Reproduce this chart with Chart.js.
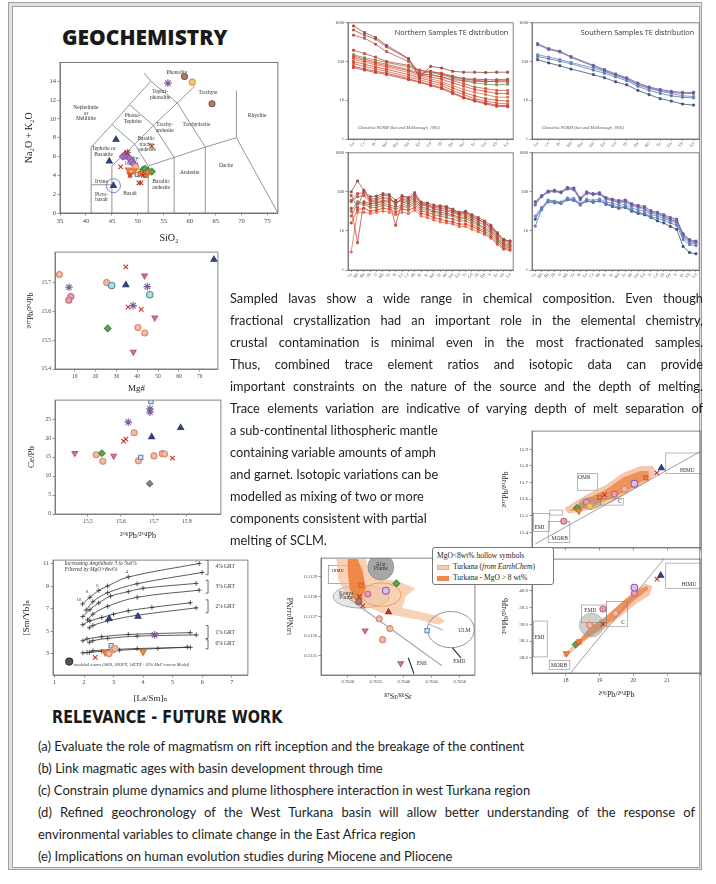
<!DOCTYPE html>
<html>
<head>
<meta charset="utf-8">
<script src="https://cdn.jsdelivr.net/npm/chart.js@4.4.1/dist/chart.umd.min.js"></script>
<style>
html, body { margin: 0; padding: 0; background: #fff; }
body { width: 716px; height: 884px; position: relative; overflow: hidden; }
.frame { position: absolute; left: 8px; top: 2px; width: 692px; height: 866px; border: 1px solid #a0a0a0; background: #e2e2e2; }
.inner { position: absolute; left: 12px; top: 6px; width: 686px; height: 860px; border: 1px solid #a0a0a0; background: #fff; }
canvas { position: absolute; }
.geo { position: absolute; left: 62px; top: 27px; margin: 0; font: 800 21px "Open Sans", sans-serif; line-height: 1; color: #1a1a1a; }
.rel { position: absolute; left: 52px; top: 708px; margin: 0; font: bold 18px "Liberation Sans Narrow", "DejaVu Sans Condensed", sans-serif;
       line-height: 1; color: #1a1a1a; transform: scaleX(0.895); transform-origin: left top; white-space: nowrap; }
.para { position: absolute; left: 230px; top: 287px; width: 473px; font: 12.8px Lato, sans-serif; line-height: 22px; color: #1e1e1e; }
.para div, .list div { white-space: nowrap; }
.para .j, .list .j { white-space: normal; text-align: justify; text-align-last: justify; }
.list { position: absolute; left: 38px; top: 735px; width: 657px; font: 13px Lato, sans-serif; line-height: 22px; color: #1e1e1e; }
.legend { position: absolute; left: 432px; top: 547px; width: 120px; height: 36px; border: 1px solid #777; border-radius: 3px; background: #fff; font: 7.5px "Liberation Serif", serif; color: #222; z-index: 5; }
.legend div { position: absolute; left: 4px; white-space: nowrap; }
.sw { display: inline-block; width: 12px; height: 5px; margin-right: 4px; vertical-align: middle; }
</style>
</head>
<body>
<div class="frame"></div>
<div class="inner"></div>
<h1 class="geo">GEOCHEMISTRY</h1>

<canvas id="tas" width="261" height="188" style="left:22px;top:57px"></canvas>
<canvas id="spNW" width="186" height="131" style="left:332px;top:18px"></canvas>
<canvas id="spNE" width="188" height="131" style="left:516px;top:18px"></canvas>
<canvas id="spSW" width="186" height="132" style="left:332px;top:148px"></canvas>
<canvas id="spSE" width="188" height="132" style="left:516px;top:148px"></canvas>
<canvas id="pbMg" width="198" height="148" style="left:25px;top:247px"></canvas>
<canvas id="cePb" width="201" height="147" style="left:25px;top:395px"></canvas>
<canvas id="iso1" width="206" height="127" style="left:500px;top:426px"></canvas>
<canvas id="iso2" width="206" height="147" style="left:500px;top:554px"></canvas>
<canvas id="ndSr" width="195" height="150" style="left:285px;top:553px"></canvas>
<canvas id="smYb" width="233" height="150" style="left:20px;top:555px"></canvas>

<div class="para">
  <div class="j">Sampled lavas show a wide range in chemical composition. Even though</div>
  <div class="j">fractional crystallization had an important role in the elemental chemistry,</div>
  <div class="j">crustal contamination is minimal even in the most fractionated samples.</div>
  <div class="j">Thus, combined trace element ratios and isotopic data can provide</div>
  <div class="j">important constraints on the nature of the source and the depth of melting.</div>
  <div class="j">Trace elements variation are indicative of varying depth of melt separation of</div>
  <div>a sub-continental lithospheric mantle</div>
  <div>containing variable amounts of amph</div>
  <div>and garnet. Isotopic variations can be</div>
  <div>modelled as mixing of two or more</div>
  <div>components consistent with partial</div>
  <div>melting of SCLM.</div>
</div>

<div class="legend">
  <div style="top:3px">MgO&lt;8wt% hollow symbols</div>
  <div style="top:14px"><span class="sw" style="background:#f6cfae;border:1px solid #e8b08a;width:10px;height:3px"></span>Turkana (<i>from EarthChem</i>)</div>
  <div style="top:25px"><span class="sw" style="background:#ec8a4a"></span>Turkana - MgO &gt; 8 wt%</div>
</div>

<h2 class="rel">RELEVANCE - FUTURE WORK</h2>
<div class="list">
  <div>(a) Evaluate the role of magmatism on rift inception and the breakage of the continent</div>
  <div>(b) Link magmatic ages with basin development through time</div>
  <div>(c) Constrain plume dynamics and plume lithosphere interaction in west Turkana region</div>
  <div class="j">(d) Refined geochronology of the West Turkana basin will allow better understanding of the response of</div>
  <div>environmental variables to climate change in the East Africa region</div>
  <div>(e) Implications on human evolution studies during Miocene and Pliocene</div>
</div>

<script>
// ---- TAS diagram (SiO2 vs Na2O+K2O)
const tasSiO2 = [55.8, 59.0, 60.5, 64.3, 45.8, 44.5, 45.3, 52.7, 47.1, 47.6, 48.0, 48.4, 48.8, 49.2, 47.8, 46.7,
                 48.2, 48.5, 48.5, 49.6, 51.0, 51.4, 52.0, 52.7, 49.9, 50.5, 51.5, 51.9, 51.0, 50.2, 50.6, 49.3];
const tasAlkali = [13.8, 14.5, 13.9, 11.6, 7.8, 5.5, 2.9, 7.1, 6.0, 6.2, 6.4, 5.8, 5.5, 5.2, 6.4, 4.9,
                   4.6, 4.1, 4.0, 4.9, 4.6, 4.7, 4.5, 4.4, 4.1, 4.2, 4.0, 4.3, 4.0, 3.2, 3.2, 4.5];
const tasSymbol = ['purpleCross', 'brownDot', 'yellowDot', 'brownDot', 'navyTri', 'navyTri', 'navyTri', 'redX',
                   'purpleDia', 'purpleDia', 'purpleCross', 'purpleDia', 'purpleDia', 'purpleDia', 'redX', 'redX',
                   'orangeTri', 'orangeTri', 'redX', 'salmonDot', 'greenStar', 'greenStar', 'greenStar', 'greenStar',
                   'blueSq', 'orangeSq', 'orangeSq', 'orangeSq', 'redX', 'redX', 'redX', 'orangeTri'];
const tasXTicks = [35, 40, 45, 50, 55, 60, 65, 70, 75];
const tasYTicks = [0, 2, 4, 6, 8, 10, 12, 14];

// ---- spider diagrams
const reeLabels = ['La', 'Ce', 'Pr', 'Nd', 'Pm', 'Sm', 'Eu', 'Gd', 'Tb', 'Dy', 'Ho', 'Er', 'Tm', 'Yb', 'Lu'];
const northRee = [
  [830, 560, 420, 262, null, 120, 38, 75, 68, 56, 53, 53, 52, 53, 53],
  [650, 480, 380, 240, null, 115, 50, 55, 48, 40, 36, 35, 34, 34, 35],
  [480, 400, 280, 180, null, 100, 45, 46, 40, 34, 32, 31, 30, 32, 32],
  [196, 160, 130, 100, null, 80, 60, 55, 50, 42, 36, 33, 31, 30, 30],
  [150, 125, 110, 95, null, 72, 58, 52, 45, 38, 32, 28, 26, 25, 26],
  [140, 115, 98, 85, null, 62, 50, 45, 40, 32, 27, 22, 20, 18, 18],
  [128, 105, 90, 78, null, 58, 46, 40, 35, 28, 23, 19, 17, 15, 15],
  [115, 95, 82, 72, null, 52, 42, 36, 30, 24, 19, 16, 14, 12, 12],
  [100, 85, 72, 63, null, 46, 38, 32, 27, 21, 16, 13, 11, 10, 9.5],
  [88, 75, 64, 56, null, 40, 34, 28, 24, 18, 14, 11, 9.5, 8.5, 8],
  [75, 65, 56, 50, null, 36, 30, 25, 21, 16, 12, 10, 8.5, 7.5, 7.2],
  [70, 60, 52, 46, null, 34, 29, 24, 20, 15, 11.5, 9.5, 8, 7, 6.8]
];
const southRee = [
  [290, 215, 185, 135, null, 80, 62, 48, 38, 28, 22, 19, 17, 16, 16],
  [270, 205, 175, 128, null, 76, 58, 45, 36, 26, 21, 18, 16, 15, 15],
  [150, 130, 112, 95, null, 68, 55, 44, 35, 25, 20, 17, 15, 13, 12.5],
  [135, 118, 102, 88, null, 60, 50, 40, 32, 23, 18, 15, 13, 12, 11.5],
  [112, 92, 78, 64, null, 46, 38, 30, 25, 18, 14, 11, 9.5, 8, 7.5]
];
const traceLabels = ['Cs', 'Rb', 'Ba', 'Th', 'U', 'Nb', 'Ta', 'K', 'La', 'Ce', 'Pb', 'Pr', 'Sr', 'Nd', 'Zr', 'Hf',
                     'Sm', 'Eu', 'Ti', 'Gd', 'Tb', 'Dy', 'Y', 'Er', 'Yb', 'Lu'];
const northTrace = [
  [100, 190, 110, 75, 78, 90, 85, 60, 80, 72, 95, 55, 52, 46, 42, 40, 36, 30, 32, 26, 22, 18, 14, 9, 6, 5.5],
  [80, 40, 105, 65, 68, 82, 78, 45, 75, 66, 85, 50, 48, 40, 38, 36, 32, 27, 29, 23, 19, 16, 12, 8, 5.5, 5],
  [56, 75, 80, 56, 56, 60, 62, 55, 60, 56, 70, 45, 44, 36, 34, 32, 30, 25, 26, 21, 17, 14, 11, 7, 5, 4.5],
  [38, 5, 56, 50, 52, 56, 55, 14, 55, 50, 62, 40, 38, 32, 30, 28, 26, 22, 23, 19, 15, 12, 10, 6.5, 4.5, 4.2],
  [32, 56, 52, 45, 46, 50, 48, 40, 48, 44, 55, 36, 34, 30, 27, 25, 24, 20, 21, 17, 14, 11, 9, 6, 4.2, 4],
  [24, 50, 48, 40, 40, 45, 42, 36, 42, 40, 48, 32, 30, 26, 24, 22, 20, 18, 18, 15, 12, 10, 8, 5.5, 4, 3.6],
  [16, 35, 38, 32, 34, 38, 36, 30, 36, 34, 40, 28, 26, 22, 20, 18, 17, 15, 15, 13, 11, 9, 7, 5, 3.6, 3.3],
  [2.9, 30, 30, 28, 30, 32, 30, 26, 30, 28, 34, 24, 22, 19, 17, 16, 15, 13, 13, 11, 9.5, 8, 6.5, 4.5, 3.4, 3.2],
  [60, 90, 95, 60, 62, 70, 68, 50, 66, 60, 78, 50, 46, 40, 44, 42, 34, 28, 30, 24, 20, 16, 13, 8.5, 6, 5.5]
];
const southTrace = [
  [56, 80, 105, 110, 100, 130, 125, 70, 100, 90, 95, 72, 65, 60, 62, 50, 45, 42, 33, 30, 26, 22, 20, 8.5, 6, 5.5],
  [46, 75, 100, 105, 95, 120, 118, 65, 95, 85, 90, 68, 62, 55, 58, 46, 42, 38, 30, 28, 24, 20, 18, 8, 5.6, 5.2],
  [24, 40, 62, 58, 55, 70, 68, 50, 65, 60, 66, 55, 52, 45, 48, 38, 35, 32, 26, 24, 21, 18, 16, 7, 5, 4.6],
  [13.3, 35, 55, 52, 50, 62, 60, 48, 60, 55, 58, 50, 46, 40, 42, 34, 30, 28, 23, 21, 19, 16, 14, 6, 4.5, 4.2],
  [20, 38, 60, 56, 52, 64, 62, 46, 58, 54, 60, 48, 42, 38, 40, 32, 28, 26, 22, 18, 16, 13, 11, 4, 2.8, 2.6],
  [50, 78, 98, 102, 96, 118, 112, 62, 90, 88, 86, 64, 60, 52, 56, 44, 40, 36, 28, 27, 23, 19, 17, 7.5, 5.3, 5]
];
const spiderTicks = [1, 10, 100, 1000];

// ---- 207Pb/204Pb vs Mg#
const mgNumber = [2.6, 7.2, 8.1, 7.1, 25.3, 27.7, 25.8, 34.5, 34.5, 35.6, 38.0, 38.1, 40.3, 43.5, 44.8, 41.9, 43.6, 46.0, 48.4, 76.8];
const mgPb207 = [15.728, 15.684, 15.652, 15.639, 15.700, 15.690, 15.541, 15.755, 15.692, 15.615, 15.620, 15.459,
                 15.544, 15.724, 15.686, 15.607, 15.525, 15.658, 15.578, 15.780];
const mgSymbol = ['salmonDot', 'purpleCross', 'pinkDot', 'pinkDot', 'salmonDot', 'tealDot', 'greenStar', 'redX', 'navyTri',
                  'redX', 'purpleCross', 'pinkTri', 'salmonDot', 'pinkTri', 'purpleCross', 'redX', 'salmonDot', 'tealDot',
                  'pinkTri', 'navyTri'];
const mgXTicks = [10, 20, 30, 40, 50, 60, 70];
const mgYTicks = [15.4, 15.5, 15.6, 15.7];

// ---- Ce/Pb vs 206Pb/204Pb
const cePbX = [15.46, 15.525, 15.542, 15.545, 15.578, 15.608, 15.615, 15.622, 15.64, 15.653, 15.66, 15.691, 15.688,
               15.688, 15.693, 15.687, 15.70, 15.725, 15.732, 15.756, 15.781];
const cePbY = [16.0, 15.6, 16.0, 13.9, 15.3, 19.2, 19.7, 24.2, 21.4, 14.0, 14.9, 29.6, 27.7, 26.8, 20.3, 8.0, 15.3,
               15.9, 15.8, 14.7, 22.7];
const cePbSymbol = ['pinkTri', 'salmonDot', 'greenStar', 'salmonDot', 'pinkTri', 'redX', 'redX', 'purpleCross', 'salmonDot',
                    'salmonDot', 'blueSq', 'blueSq', 'purpleCross', 'purpleCross', 'navyTri', 'grayDia', 'salmonDot',
                    'salmonDot', 'salmonDot', 'redX', 'navyTri'];
const cePbXTicks = [15.5, 15.6, 15.7, 15.8];
const cePbYTicks = [0, 5, 10, 15, 20, 25];

// ---- Pb isotopes
const iso1Pb206 = [18.33, 18.39, 18.61, 18.71, 19.0, 19.15, 19.44, 19.74, 20.03, 20.37, 20.70, 20.83, 17.94];
const iso1Pb207 = [15.546, 15.528, 15.581, 15.556, 15.611, 15.626, 15.630, 15.660, 15.693, 15.729, 15.758, 15.788, 15.467];
const iso1Symbol = ['greenStar', 'orangeTri', 'pinkDot', 'yellowDot', 'orangeSq', 'redX', 'pinkDot', 'salmonDot',
                    'purpleRing', 'orangeSq', 'redX', 'navyTri', 'pinkDot'];
const iso1YTicks = [15.4, 15.5, 15.6, 15.7, 15.8, 15.9];
const iso2Pb206 = [18.02, 18.29, 18.39, 18.71, 19.10, 19.10, 19.47, 20.03, 20.03, 20.70, 20.81];
const iso2Pb208 = [38.13, 38.40, 38.48, 38.98, 39.01, 39.46, 39.33, 39.93, 40.10, 40.35, 40.46];
const iso2Symbol = ['orangeTri', 'greenStar', 'orangeSq', 'salmonDot', 'redX', 'pinkDot', 'salmonDot', 'pinkDot',
                    'purpleRing', 'redX', 'navyTri'];
const isoXTicks = [17, 18, 19, 20, 21, 22];
const iso2YTicks = [38.0, 38.5, 39.0, 39.5, 40.0];

// ---- 143Nd/144Nd vs 87Sr/86Sr
const ndSrSr = [0.703867, 0.703236, 0.703679, 0.703355, 0.703207, 0.703196, 0.703266, 0.703726, 0.703561, 0.703308,
                0.70375, 0.70362, 0.703944, 0.704415];
const ndSrNd = [0.512867, 0.512858, 0.51283, 0.512813, 0.5128, 0.512775, 0.512753, 0.512722, 0.512688, 0.512628,
                0.512638, 0.512582, 0.512462, 0.512628];
const ndSrSymbol = ['greenStar', 'orangeSq', 'purpleRing', 'pinkDot', 'redX', 'brownDot', 'redX', 'redTri', 'salmonDot',
                    'pinkTri', 'salmonDot', 'salmonDot', 'pinkTri', 'blueSq'];
const ndSrXTicks = [0.7030, 0.7035, 0.7040, 0.7045, 0.7050];
const ndSrYTicks = [0.5125, 0.5126, 0.5127, 0.5128, 0.5129];

// ---- [Sm/Yb]N vs [La/Sm]N melting model
const grtLaSm = [
  [1.95, 2.2, 2.5, 2.8, 3.5, 5.9],
  [2.07, 2.3, 2.8, 3.8, 6.0],
  [1.96, 2.2, 2.5, 2.9, 3.5, 4.0, 5.8],
  [2.12, 2.3, 2.8, 3.8, 5.9],
  [1.96, 2.2, 2.6, 3.0, 3.5, 4.3, 5.6],
  [2.18, 2.3, 2.8, 3.8, 5.8],
  [1.96, 2.1, 2.6, 3.5, 5.6],
  [2.18, 2.3, 2.8, 3.8, 5.8],
  [1.96, 2.1, 2.6, 3.2, 4.5, 5.5],
  [2.18, 2.3, 2.9, 3.8, 5.6]
];
const grtSmYb = [
  [7.4, 8.0, 8.6, 9.0, 9.8, 11.0],
  [6.86, 7.6, 8.4, 9.2, 10.2],
  [6.29, 6.9, 7.5, 8.1, 8.5, 8.8, 9.23],
  [6.0, 6.5, 7.2, 8.0, 8.63],
  [5.57, 5.9, 6.2, 6.5, 6.8, 7.1, 7.51],
  [5.29, 5.5, 5.9, 6.4, 7.06],
  [4.14, 4.3, 4.5, 4.7, 4.86],
  [4.0, 4.15, 4.35, 4.55, 4.66],
  [3.06, 3.1, 3.2, 3.3, 3.45, 3.58],
  [3.1, 3.25, 3.35, 3.45, 3.55]
];
const smYbLaSm = [2.85, 3.83, 4.39, 2.92, 2.98, 3.05, 2.72, 2.85, 4.0, 2.38, 1.5];
const smYbSmYb = [6.09, 6.29, 4.66, 3.71, 3.35, 3.45, 3.09, 3.0, 3.14, 2.66, 2.29];
const smYbSymbol = ['navyTri', 'navyTri', 'purpleCross', 'blueSq', 'salmonDot', 'salmonDot', 'orangeTri', 'salmonDot',
                    'orangeTri', 'redX', 'darkDot'];
const smYbXTicks = [1, 2, 3, 4, 5, 6, 7];
const smYbYTicks = [3, 5, 7, 9, 11];

const symbolStyles = {
  redX:        { shape: 'crossRot', color: '#c0392b', fill: '#c0392b', r: 3.2 },
  navyTri:     { shape: 'triangle', color: '#2c3a78', fill: '#34448a', r: 3.4 },
  redTri:      { shape: 'triangle', color: '#a03030', fill: '#b04040', r: 3.2 },
  pinkTri:     { shape: 'triangle', rot: 180, color: '#b85a78', fill: '#d07a95', r: 3.2 },
  orangeTri:   { shape: 'triangle', rot: 180, color: '#e0702a', fill: '#f08a40', r: 3.4 },
  purpleCross: { shape: 'star', color: '#7d5a9e', fill: '#7d5a9e', r: 3.8 },
  purpleDia:   { shape: 'rectRot', color: '#8a5aa8', fill: '#a77cc4', r: 3.4 },
  purpleRing:  { shape: 'circle', color: '#8e5aa8', fill: '#dcc0ec', r: 3.4 },
  salmonDot:   { shape: 'circle', color: '#d88a70', fill: '#f2bba4', r: 3 },
  pinkDot:     { shape: 'circle', color: '#c06a80', fill: '#e8a0b0', r: 3 },
  brownDot:    { shape: 'circle', color: '#8e5a4e', fill: '#b07a6a', r: 3 },
  yellowDot:   { shape: 'circle', color: '#d8a040', fill: '#f5c870', r: 3 },
  greenStar:   { shape: 'rectRot', color: '#3a8a3a', fill: '#5aaa50', r: 3.3 },
  blueSq:      { shape: 'rect', color: '#5a8ac0', fill: '#cfe3f2', r: 3 },
  orangeSq:    { shape: 'rect', color: '#e0602a', fill: '#f07a40', r: 3 },
  tealDot:     { shape: 'circle', color: '#4f9298', fill: '#b8dcdc', r: 3.2 },
  darkDot:     { shape: 'circle', color: '#333', fill: '#555', r: 3.5 },
  grayDia:     { shape: 'rectRot', color: '#666', fill: '#888', r: 3 }
};

Chart.defaults.animation = false;
Chart.defaults.responsive = false;
Chart.defaults.devicePixelRatio = 1;
Chart.defaults.font.family = '"Liberation Serif", "DejaVu Serif", serif';
Chart.defaults.plugins.legend.display = false;
Chart.defaults.plugins.tooltip.enabled = false;

// draws field lines, boxes, envelopes and labels in data units through the chart scales
function toPx(chart, p) {
  return [chart.scales.x.getPixelForValue(p[0]), chart.scales.y.getPixelForValue(p[1])];
}
function paint(chart, items) {
  if (!items) return;
  const ctx = chart.ctx, a = chart.chartArea;
  ctx.save();
  ctx.beginPath();
  ctx.rect(a.left, a.top, a.right - a.left, a.bottom - a.top);
  ctx.clip();
  for (const it of items) {
    ctx.save();
    ctx.lineWidth = it.width || 0.8;
    ctx.strokeStyle = it.stroke || '#777';
    ctx.setLineDash(it.dash || []);
    if (it.path) {
      ctx.beginPath();
      it.path.forEach((p, i) => {
        const [x, y] = toPx(chart, p);
        if (i) ctx.lineTo(x, y); else ctx.moveTo(x, y);
      });
      if (it.close) ctx.closePath();
      if (it.fill) { ctx.fillStyle = it.fill; ctx.fill(); }
      if (it.stroke !== 'none') ctx.stroke();
    } else if (it.box) {
      const [x1, y1] = toPx(chart, [it.box[0], it.box[1]]);
      const [x2, y2] = toPx(chart, [it.box[2], it.box[3]]);
      if (it.fill) { ctx.fillStyle = it.fill; ctx.fillRect(x1, y1, x2 - x1, y2 - y1); }
      ctx.strokeRect(x1, y1, x2 - x1, y2 - y1);
    } else if (it.ellipse) {
      const [cx, cy] = toPx(chart, it.ellipse);
      const [ex, ey] = toPx(chart, [it.ellipse[0] + it.ellipse[2], it.ellipse[1] + it.ellipse[3]]);
      ctx.beginPath();
      ctx.ellipse(cx, cy, Math.abs(ex - cx), Math.abs(ey - cy), 0, 0, Math.PI * 2);
      if (it.fill) { ctx.fillStyle = it.fill; ctx.fill(); }
      if (it.stroke !== 'none') ctx.stroke();
    } else if (it.ring) {
      const [cx, cy] = toPx(chart, it.ring);
      ctx.beginPath();
      ctx.arc(cx, cy, it.r, 0, Math.PI * 2);
      if (it.fill) { ctx.fillStyle = it.fill; ctx.fill(); }
      if (it.stroke !== 'none') ctx.stroke();
    } else if (it.text !== undefined) {
      let x, y;
      if (it.rel) {
        x = a.left + it.rel[0] * (a.right - a.left);
        y = a.top + it.rel[1] * (a.bottom - a.top);
      } else {
        [x, y] = toPx(chart, it.at);
      }
      ctx.font = it.font || '5.5px "Liberation Serif", serif';
      ctx.fillStyle = it.color || '#333';
      ctx.textAlign = it.align || 'center';
      ctx.textBaseline = 'middle';
      ctx.fillText(it.text, x, y);
    }
    ctx.restore();
  }
  ctx.restore();
}
// inline plugin per chart, so the decor objects are not passed through the option resolver
function decorPlugin(decor) {
  return {
    id: 'decor',
    beforeDatasetsDraw(chart) { paint(chart, decor.under); },
    afterDatasetsDraw(chart) {
      paint(chart, decor.over);
      const a = chart.chartArea, ctx = chart.ctx;
      ctx.save();
      ctx.strokeStyle = decor.frameColor || '#666';
      ctx.lineWidth = 0.9;
      ctx.strokeRect(a.left, a.top, a.right - a.left, a.bottom - a.top);
      ctx.restore();
    }
  };
}

function axis(o) {
  const horizontal = o.pos === 'bottom';
  return {
    type: o.log ? 'logarithmic' : 'linear',
    position: o.pos,
    min: o.min,
    max: o.max,
    afterBuildTicks: s => { s.ticks = o.ticks.map(v => ({ value: v })); },
    afterFit: s => { if (horizontal) s.height = o.size; else s.width = o.size; },
    grid: { display: true, drawOnChartArea: false, drawTicks: true, tickLength: 2.5, color: '#666', lineWidth: 0.7 },
    border: { display: true, color: '#666', width: 0.8 },
    ticks: {
      display: !o.hideLabels, color: '#444', font: { size: o.tickSize || 6.5 }, padding: 1.5,
      maxRotation: 0, autoSkip: false, callback: v => (o.fmt ? o.fmt(v) : v)
    },
    title: {
      display: !!o.title, text: o.title, color: '#222', font: { size: o.titleSize || 9 },
      padding: { top: 1, bottom: 1 }
    }
  };
}

function marks(xs, ys, kinds) {
  return {
    type: 'scatter',
    data: xs.map((x, i) => ({ x: x, y: ys[i] })),
    pointStyle: kinds.map(k => symbolStyles[k].shape),
    pointRotation: kinds.map(k => symbolStyles[k].rot || 0),
    pointRadius: kinds.map(k => symbolStyles[k].r),
    pointBackgroundColor: kinds.map(k => symbolStyles[k].fill),
    pointBorderColor: kinds.map(k => symbolStyles[k].color),
    pointBorderWidth: 1.1,
    order: 0
  };
}

function scatterChart(id, datasets, xAxis, yAxis, decor, pad) {
  return new Chart(document.getElementById(id), {
    type: 'scatter',
    data: { datasets: datasets },
    options: {
      layout: { padding: pad || { top: 3, right: 3, left: 0, bottom: 0 } },
      scales: { x: xAxis, y: yAxis }
    },
    plugins: [decorPlugin(decor)]
  });
}

// ---- TAS
const tasFields = [
  [[41, 0], [41, 7], [45, 9.4], [48.4, 11.5], [52.5, 14], [51.2, 14.9]],
  [[41, 3], [45, 3]],
  [[45, 0], [45, 5], [49.4, 7.3], [53, 9.3], [57.6, 11.7], [61, 13.5]],
  [[52, 0], [52, 5], [57, 5.9], [63, 7], [69, 8]],
  [[57, 0], [57, 5.9], [53, 9.3], [48.4, 11.5]],
  [[63, 0], [63, 7], [57.6, 11.7], [52.5, 14]],
  [[45, 9.4], [49.4, 7.3], [52, 5]],
  [[69, 13], [69, 8], [77, 0]]
];
const tasNames = [
  ['Phonolite', 57.5, 14.9], ['Tephri-', 54.3, 12.9], ['phonolite', 54.3, 12.3], ['Trachyte', 63.5, 12.8],
  ['Rhyolite', 73, 10.3], ['Nephelinite', 40, 11.2], ['or', 40, 10.6], ['Melilitite', 40, 10.0],
  ['Phono-', 49, 10.3], ['Tephrite', 49, 9.7], ['Trachy-', 55.2, 9.4], ['andesite', 55.2, 8.8],
  ['Trachydacite', 61.3, 9.4], ['Basaltic', 51.6, 7.9], ['trachy-', 51.8, 7.3], ['andesite', 51.8, 6.7],
  ['Tephrite or', 43.4, 6.8], ['Basanite', 43.4, 6.2], ['Trachy-', 48.8, 5.8], ['basalt', 48.8, 5.3],
  ['Andesite', 60, 4.3], ['Dacite', 67, 5.0], ['Irvine', 43, 3.3], ['Picro-', 43, 2.0], ['basalt', 43, 1.4],
  ['Basalt', 48.5, 2.1], ['Basaltic', 54.5, 3.3], ['andesite', 54.5, 2.7]
];
scatterChart('tas', [marks(tasSiO2, tasAlkali, tasSymbol)],
  axis({ pos: 'bottom', min: 35, max: 77, ticks: tasXTicks, size: 32, title: 'SiO₂', titleSize: 10 }),
  axis({ pos: 'left', min: 0, max: 16, ticks: tasYTicks, size: 38, title: 'Na₂O + K₂O', titleSize: 10 }),
  {
    under: tasFields.map(p => ({ path: p, stroke: '#8a8a8a', width: 0.9 }))
      .concat(tasNames.map(n => ({ text: n[0], at: [n[1], n[2]], font: '5.4px "Liberation Serif", serif', color: '#333' }))),
    over: [{ ring: [45.3, 2.9], r: 7, stroke: '#5a6ab0', width: 0.8 }]
  },
  { top: 5, right: 5, left: 0, bottom: 0 });

// ---- spider diagrams
const northColors = ['#9c4e46', '#a8584c', '#b8584e', '#c9493c', '#6d9460', '#d4553c', '#d9472f', '#e6714c',
                     '#c84c3c', '#e05a40', '#d04030', '#b84a4a'];
const southColors = ['#6a5a9a', '#7b6aaa', '#6a8ac0', '#5b7ab0', '#3d4f7a', '#8a7ab8'];
function spider(id, labels, series, colors, notes) {
  return new Chart(document.getElementById(id), {
    type: 'line',
    data: {
      labels: labels,
      datasets: series.map((vals, i) => ({
        data: vals, borderColor: colors[i % colors.length], backgroundColor: colors[i % colors.length],
        borderWidth: 0.8, pointRadius: 1.4, pointStyle: 'rect', spanGaps: true
      }))
    },
    options: {
      layout: { padding: { top: 2, right: 2, left: 0, bottom: 0 } },
      scales: {
        x: {
          type: 'category', offset: true,
          afterFit: s => { s.height = 10; },
          grid: { display: true, drawOnChartArea: false, tickLength: 2, color: '#777', lineWidth: 0.6 },
          border: { color: '#777' },
          ticks: { color: '#555', font: { size: 4.3 }, padding: 0, autoSkip: false, minRotation: 50, maxRotation: 50 }
        },
        y: axis({ pos: 'left', log: true, min: 1, max: 1000, ticks: spiderTicks, size: 16, tickSize: 4.5 })
      }
    },
    plugins: [decorPlugin({ over: notes, frameColor: '#777' })]
  });
}
spider('spNW', reeLabels, northRee, northColors, [
  { text: 'Northern Samples TE distribution', rel: [0.97, 0.09], align: 'right', font: '7.3px "Open Sans", sans-serif', color: '#333' },
  { text: 'Chondrite NORM (Sun and McDonough, 1995)', rel: [0.06, 0.9], align: 'left', font: 'italic 4.3px "Liberation Serif", serif', color: '#555' }
]);
spider('spNE', reeLabels, southRee, southColors, [
  { text: 'Southern Samples TE distribution', rel: [0.97, 0.09], align: 'right', font: '7.3px "Open Sans", sans-serif', color: '#333' },
  { text: 'Chondrite NORM (Sun and McDonough, 1995)', rel: [0.06, 0.9], align: 'left', font: 'italic 4.3px "Liberation Serif", serif', color: '#555' }
]);
spider('spSW', traceLabels, northTrace, northColors, []);
spider('spSE', traceLabels, southTrace, southColors, []);

// ---- Pb vs Mg#
scatterChart('pbMg', [marks(mgNumber, mgPb207, mgSymbol)],
  axis({ pos: 'bottom', min: 0.5, max: 78.7, ticks: mgXTicks, size: 26, title: 'Mg#', tickSize: 5.5 }),
  axis({ pos: 'left', min: 15.4, max: 15.806, ticks: mgYTicks, size: 30, title: '²⁰⁷Pb/²⁰⁴Pb', tickSize: 5.5, titleSize: 8,
         fmt: v => v.toFixed(1) }),
  { frameColor: '#777' });

// ---- Ce/Pb
scatterChart('cePb', [marks(cePbX, cePbY, cePbSymbol)],
  axis({ pos: 'bottom', min: 15.4, max: 15.903, ticks: cePbXTicks, size: 28, title: '²⁰⁶Pb/²⁰⁴Pb', tickSize: 5.5, titleSize: 8,
         fmt: v => v.toFixed(1) }),
  axis({ pos: 'left', min: 0, max: 30, ticks: cePbYTicks, size: 30, title: 'Ce/Pb', tickSize: 5.5 }),
  { frameColor: '#777' });

// ---- 207Pb/204Pb vs 206Pb/204Pb
const isoNote = '5.5px "Liberation Serif", serif';
scatterChart('iso1', [marks(iso1Pb206, iso1Pb207, iso1Symbol)],
  axis({ pos: 'bottom', min: 17, max: 22, ticks: isoXTicks, size: 4, hideLabels: true }),
  axis({ pos: 'left', min: 15.306, max: 16.01, ticks: iso1YTicks, size: 32, title: '²⁰⁷Pb/²⁰⁴Pb', tickSize: 5, titleSize: 8,
         fmt: v => v.toFixed(1) }),
  {
    under: [
      { path: [[17.97, 15.544], [18.61, 15.624], [19.2, 15.684], [19.69, 15.754], [20.18, 15.794], [20.57, 15.798],
               [20.67, 15.754], [20.47, 15.714], [19.88, 15.644], [19.39, 15.584], [18.9, 15.554], [18.41, 15.524],
               [18.07, 15.518]], close: true, fill: 'rgba(246,192,158,0.85)', stroke: '#e8b090', width: 0.6 },
      { path: [[18.1, 15.53], [18.6, 15.6], [19.2, 15.66], [19.7, 15.73], [20.2, 15.77], [20.45, 15.77], [20.45, 15.73],
               [19.9, 15.66], [19.3, 15.6], [18.8, 15.56], [18.3, 15.53]], close: true, fill: 'rgba(238,128,64,0.75)', stroke: 'none' },
      { ellipse: [18.72, 15.575, 0.33, 0.035], fill: 'rgba(150,150,140,0.45)', stroke: '#999', width: 0.5 },
      { path: [[17.1, 15.33], [22.1, 15.9]], stroke: '#888', width: 0.8 },
      { box: [18.35, 15.754, 18.94, 15.654], stroke: '#888', width: 0.6 },
      { box: [19.02, 15.604, 19.70, 15.564], stroke: '#888', width: 0.6 },
      { box: [17.53, 15.534, 17.90, 15.504], stroke: '#888', width: 0.6 },
      { box: [17.04, 15.514, 17.51, 15.404], stroke: '#888', width: 0.6 },
      { box: [17.48, 15.464, 18.12, 15.338], stroke: '#888', width: 0.6 },
      { box: [20.96, 15.878, 22.03, 15.754], stroke: '#888', width: 0.6 },
      { text: 'OMR', at: [18.55, 15.73], font: isoNote },
      { text: 'C', at: [19.6, 15.584], font: isoNote },
      { text: 'EMI', at: [17.22, 15.43], font: isoNote },
      { text: 'MORB', at: [17.82, 15.36], font: isoNote },
      { text: 'HIMU', at: [21.6, 15.772], font: isoNote }
    ],
    frameColor: '#777'
  });

// ---- 208Pb/204Pb vs 206Pb/204Pb
scatterChart('iso2', [marks(iso2Pb206, iso2Pb208, iso2Symbol)],
  axis({ pos: 'bottom', min: 17, max: 22, ticks: isoXTicks, size: 28, title: '²⁰⁶Pb/²⁰⁴Pb', tickSize: 5.5, titleSize: 8,
         fmt: v => (v >= 18 && v <= 21 ? v : '') }),
  axis({ pos: 'left', min: 37.55, max: 40.95, ticks: iso2YTicks, size: 32, title: '²⁰⁸Pb/²⁰⁴Pb', tickSize: 5, titleSize: 8,
         fmt: v => v.toFixed(1) }),
  {
    under: [
      { path: [[17.92, 38.08], [18.31, 38.43], [18.71, 38.88], [19.2, 39.23], [19.69, 39.68], [20.08, 40.03],
               [20.37, 40.2], [20.55, 40.13], [20.47, 39.88], [20.08, 39.63], [19.59, 39.23], [19.15, 38.88],
               [18.71, 38.63], [18.22, 38.23], [18.0, 38.03]], close: true, fill: 'rgba(246,192,158,0.85)', stroke: '#e8b090', width: 0.6 },
      { path: [[18.3, 38.4], [18.7, 38.9], [19.2, 39.25], [19.7, 39.7], [20.1, 40.0], [20.4, 40.15], [20.45, 40.05],
               [20.0, 39.7], [19.5, 39.2], [19.0, 38.85], [18.5, 38.5], [18.25, 38.3]], close: true, fill: 'rgba(238,128,64,0.75)', stroke: 'none' },
      { ring: [18.76, 38.98], r: 12, fill: 'rgba(150,150,140,0.45)', stroke: '#999', width: 0.5 },
      { path: [[18.12, 37.53], [21.01, 41.08]], stroke: '#888', width: 0.8 },
      { box: [17.04, 39.1, 17.45, 38.03], stroke: '#888', width: 0.6 },
      { box: [17.51, 37.93, 18.12, 37.66], stroke: '#888', width: 0.6 },
      { box: [18.46, 39.58, 19.2, 39.06], stroke: '#888', width: 0.6 },
      { box: [19.2, 39.68, 19.83, 38.93], stroke: '#888', width: 0.6 },
      { box: [20.96, 40.83, 22.03, 40.08], stroke: '#888', width: 0.6 },
      { text: 'EMI', at: [17.22, 38.6], font: isoNote },
      { text: 'MORB', at: [17.8, 37.77], font: isoNote },
      { text: 'EMII', at: [18.72, 39.42], font: isoNote },
      { text: 'C', at: [19.7, 39.05], font: isoNote },
      { text: 'HIMU', at: [21.65, 40.2], font: isoNote }
    ],
    frameColor: '#777'
  });

// ---- Nd vs Sr
scatterChart('ndSr', [marks(ndSrSr, ndSrNd, ndSrSymbol)],
  axis({ pos: 'bottom', min: 0.70252, max: 0.70527, ticks: ndSrXTicks, size: 28, title: '⁸⁷Sr/⁸⁶Sr', tickSize: 4.6, titleSize: 8,
         fmt: v => v.toFixed(4) }),
  axis({ pos: 'left', min: 0.512403, max: 0.512995, ticks: ndSrYTicks, size: 36, title: '¹⁴³Nd/¹⁴⁴Nd', tickSize: 4.6, titleSize: 8,
         fmt: v => v.toFixed(4) }),
  {
    under: [
      { box: [0.70265, 0.512958, 0.703266, 0.512867], stroke: '#777', width: 0.6, fill: '#fff' },
      { ellipse: [0.703237, 0.5128, 0.0005, 0.0000583], fill: 'rgba(205,205,205,0.45)', stroke: '#888', width: 0.7 },
      { path: [[0.702795, 0.51299], [0.703325, 0.51299], [0.703384, 0.512925], [0.70362, 0.512892], [0.703914, 0.512875],
               [0.704209, 0.512842], [0.704032, 0.5128], [0.703973, 0.512742], [0.704268, 0.512725], [0.704621, 0.5127],
               [0.704739, 0.512675], [0.704621, 0.512658], [0.704268, 0.512683], [0.703914, 0.5127], [0.70362, 0.512717],
               [0.703384, 0.512742], [0.703148, 0.512758], [0.702972, 0.512808], [0.702824, 0.512892]],
        close: true, fill: 'rgba(246,190,150,0.7)', stroke: 'none' },
      { path: [[0.702998, 0.51299], [0.703175, 0.51299], [0.703264, 0.512925], [0.703325, 0.512842], [0.703236, 0.512792],
               [0.703119, 0.512783], [0.70303, 0.512842], [0.702998, 0.512925]], close: true, fill: 'rgba(238,118,48,0.8)', stroke: 'none' },
      { ellipse: [0.7036, 0.51281, 0.00035, 0.00006], stroke: '#e89050', width: 0.8 },
      { ring: [0.70359, 0.51295], r: 13, fill: '#a6a6a6', stroke: '#808080', width: 0.6 },
      { ellipse: [0.70484, 0.512633, 0.00042, 0.0000917], stroke: '#777', width: 0.8 },
      { path: [[0.70445, 0.51266], [0.70470, 0.51263]], stroke: '#9cc4e4', width: 1.2 },
      { path: [[0.70301, 0.512792], [0.70468, 0.51245]], stroke: '#aaa', width: 1.3 },
      { path: [[0.70408, 0.51249], [0.70418, 0.51241]], stroke: '#333', width: 1.2 },
      { path: [[0.70487, 0.51254], [0.70502, 0.51249]], stroke: '#333', width: 1.2 },
      { text: 'Afar', at: [0.70359, 0.512962], font: isoNote },
      { text: 'Plume', at: [0.70359, 0.51294], font: isoNote },
      { text: 'Kenya', at: [0.70297, 0.512815], font: isoNote },
      { text: 'Plume', at: [0.70297, 0.512795], font: isoNote },
      { text: 'ULM', at: [0.70508, 0.51263], font: isoNote },
      { text: 'EMI', at: [0.70432, 0.51246], font: isoNote },
      { text: 'EMII', at: [0.70499, 0.51247], font: isoNote },
      { text: 'HIMU', at: [0.70282, 0.51293], font: '4.5px "Liberation Serif", serif' }
    ],
    frameColor: '#777'
  });

// ---- [Sm/Yb]N vs [La/Sm]N
const grtSets = grtLaSm.map((xs, i) => ({
  type: 'scatter', showLine: true, tension: 0.35,
  data: xs.map((x, j) => ({ x: x, y: grtSmYb[i][j] })),
  borderColor: '#333', borderWidth: 0.8,
  pointStyle: 'cross', pointRadius: 2.4, pointBorderColor: '#333', pointBorderWidth: 0.8, order: 1
}));
const bracket = (top, bot) => ({ path: [[6.12, top], [6.2, top], [6.2, bot], [6.12, bot]], stroke: '#444', width: 0.8 });
const grtNote = '5.5px "Liberation Serif", serif';
scatterChart('smYb', grtSets.concat([marks(smYbLaSm, smYbSmYb, smYbSymbol)]),
  axis({ pos: 'bottom', min: 0.95, max: 7.55, ticks: smYbXTicks, size: 30, title: '[La/Sm]ₙ', tickSize: 6, titleSize: 9 }),
  axis({ pos: 'left', min: 1.1, max: 11.3, ticks: smYbYTicks, size: 33, title: '[Sm/Yb]ₙ', tickSize: 6, titleSize: 9 }),
  {
    over: [
      bracket(11.29, 10.0), bracket(9.51, 8.37), bracket(7.77, 6.63), bracket(5.49, 4.34), bracket(4.23, 3.43),
      { text: '4% GRT', at: [6.45, 10.7], align: 'left', font: grtNote },
      { text: '3% GRT', at: [6.45, 8.94], align: 'left', font: grtNote },
      { text: '2% GRT', at: [6.45, 7.14], align: 'left', font: grtNote },
      { text: '1% GRT', at: [6.45, 4.86], align: 'left', font: grtNote },
      { text: '0% GRT', at: [6.45, 3.86], align: 'left', font: grtNote },
      { text: 'Increasing Amphibole 3 to 5wt%', at: [1.34, 11.0], align: 'left', font: 'italic 5.5px "Liberation Serif", serif' },
      { text: 'Filtered by MgO>8wt%', at: [1.34, 10.5], align: 'left', font: 'italic 5.5px "Liberation Serif", serif' },
      { text: 'modeled source (58Ol, 28OPX, 14CPX - 10% MeF inverse Model)', at: [1.67, 2.0], align: 'left',
        font: 'italic 4.3px "Liberation Serif", serif' },
      { text: '10', at: [1.82, 7.75], font: '4.5px "Liberation Serif", serif' },
      { text: '8', at: [2.1, 8.45], font: '4.5px "Liberation Serif", serif' },
      { text: '6', at: [2.45, 9.05], font: '4.5px "Liberation Serif", serif' },
      { text: '4', at: [3.45, 10.25], font: '4.5px "Liberation Serif", serif' },
      { text: '2', at: [5.8, 11.2], font: '4.5px "Liberation Serif", serif' }
    ],
    frameColor: '#777'
  });
</script>
</body>
</html>
